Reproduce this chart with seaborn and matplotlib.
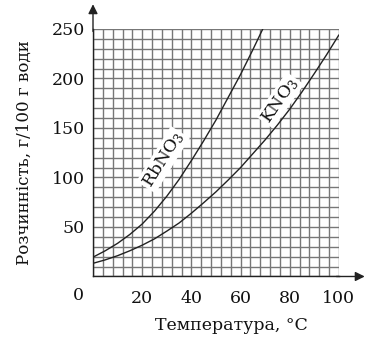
import numpy as np
import pandas as pd
import matplotlib
matplotlib.use("Agg")
import matplotlib.pyplot as plt
import seaborn as sns

# Solubility (g per 100 g water) versus temperature (°C)
temp_rb = [0, 5, 10, 15, 20, 25, 30, 35, 40, 45, 50, 55, 60, 65, 70]
sol_rb = [19.5, 26, 33.5, 42.5, 53, 66, 81, 98, 117, 137, 158, 181, 204, 229, 255]
temp_k = [0, 5, 10, 15, 20, 25, 30, 35, 40, 45, 50, 55, 60, 65, 70, 75, 80, 85, 90, 95, 100]
sol_k = [13.3, 16.8, 21, 26, 31.6, 38, 45.8, 54, 63.9, 74.5, 85.5, 97.5, 110, 124, 138, 153,
         169, 186.5, 205, 224, 244]

x_ticks = [20, 40, 60, 80, 100]
y_ticks = [50, 100, 150, 200, 250]
x_label = "Температура, °С"
y_label = "Розчинність, г/100 г води"

df = pd.concat([
    pd.DataFrame({"t": temp_rb, "s": sol_rb, "salt": "RbNO3"}),
    pd.DataFrame({"t": temp_k, "s": sol_k, "salt": "KNO3"}),
])

sns.set_style("white")
plt.rcParams["font.family"] = ["DejaVu Serif"]
plt.rcParams["mathtext.fontset"] = "dejavuserif"

FS = 12.5
fig = plt.figure(figsize=(3.72, 3.48), dpi=100)
ax = fig.add_axes([0.25, 0.2055, 0.661, 0.7112])

sns.lineplot(data=df, x="t", y="s", units="salt", estimator=None, color="#222222",
             lw=1.0, ax=ax, legend=False, zorder=3)

ax.set_xlim(0, 100)
ax.set_ylim(0, 250)

# fine grid: every 4 °C horizontally, every 10 g vertically
ax.set_xticks(np.arange(0, 101, 4), minor=True)
ax.set_yticks(np.arange(0, 251, 10), minor=True)
ax.set_xticks(x_ticks)
ax.set_yticks(y_ticks)
ax.grid(True, which="both", color="#777777", lw=1.0)
ax.set_axisbelow(True)
ax.tick_params(which="minor", length=0)
ax.tick_params(which="major", length=4, width=0.9, color="#222222",
               labelsize=FS, labelcolor="#111111")
ax.tick_params(axis="x", pad=6)
ax.tick_params(axis="y", pad=2)

for side in ("top", "right"):
    ax.spines[side].set_visible(False)
for side in ("left", "bottom"):
    ax.spines[side].set_color("#222222")
    ax.spines[side].set_linewidth(1.0)

ax.set_xlabel(x_label, fontsize=FS, color="#111111")
ax.xaxis.set_label_coords(0.565, -0.165)
ax.set_ylabel(y_label, fontsize=12, color="#111111")
ax.yaxis.set_label_coords(-0.245, 0.5)

# shared origin label
ax.annotate("0", xy=(0, 0), xycoords="axes fraction", xytext=(-15, -19),
            textcoords="offset pixels", ha="center", va="center",
            fontsize=FS, color="#111111")

# axis arrows
ax.annotate("", xy=(0, 1.1), xycoords="axes fraction", xytext=(0, 0.99),
            arrowprops=dict(arrowstyle="-|>", color="#222222", lw=1.0,
                            mutation_scale=14, shrinkA=0, shrinkB=0),
            annotation_clip=False)
ax.annotate("", xy=(1.105, 0), xycoords="axes fraction", xytext=(0.99, 0),
            arrowprops=dict(arrowstyle="-|>", color="#222222", lw=1.0,
                            mutation_scale=14, shrinkA=0, shrinkB=0),
            annotation_clip=False)

# curve labels
box = dict(facecolor="white", edgecolor="none", pad=1.0)
ax.text(28.5, 118, "RbNO$_3$", rotation=58, ha="center", va="center",
        fontsize=FS, color="#111111", bbox=box, zorder=4)
ax.text(76, 178, "KNO$_3$", rotation=55, ha="center", va="center",
        fontsize=FS, color="#111111", bbox=box, zorder=4)

fig.savefig("out.png", dpi=100)
